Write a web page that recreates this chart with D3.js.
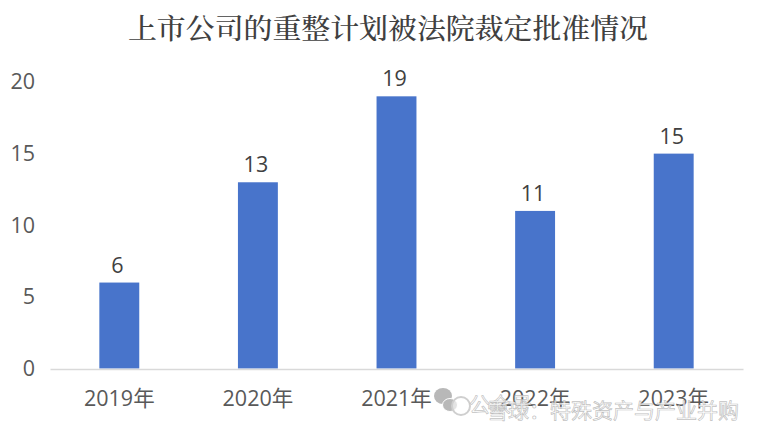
<!DOCTYPE html>
<html><head><meta charset="utf-8">
<script src="https://cdn.jsdelivr.net/npm/d3@7"></script>
<style>html,body{margin:0;padding:0;background:#fff}svg{display:block}</style>
</head><body><svg id="c" width="760" height="432"></svg>
<script>
const titleText = "上市公司的重整计划被法院裁定批准情况";
const categories = ["2019年","2020年","2021年","2022年","2023年"];
const values = [6,13,19,11,15];
const yTicks = [0,5,10,15,20];
const watermarkA = "公众号";
const watermarkB = "雪球：特殊资产与产业并购";

const sansFont = "'Open Sans','Noto Sans CJK SC',sans-serif";
const svg = d3.select("#c");
const x = d3.scaleBand().domain(categories).range([50,743]).paddingInner(0.712).paddingOuter(0.356);
const y = d3.scaleLinear().domain([0,20]).range([368.5,82]);

svg.append("text").attr("x",388).attr("y",39).attr("text-anchor","middle")
  .attr("font-family","'Noto Serif CJK SC','Noto Sans CJK SC',serif").attr("font-size",28.9).attr("font-weight",500)
  .attr("fill","#404040").text(titleText);

svg.selectAll("rect.bar").data(values).join("rect").attr("class","bar")
  .attr("x",(d,i)=>x(categories[i])).attr("width",x.bandwidth())
  .attr("y",d=>y(d)).attr("height",d=>y(0)-y(d)).attr("fill","#4874CB");

const xAxis = svg.append("g").attr("transform",`translate(0,${y(0)+0.5})`).call(d3.axisBottom(x).tickSize(0).tickPadding(22));
xAxis.select(".domain").attr("stroke","#D9D9D9").attr("stroke-width",1.5);
xAxis.selectAll("text").attr("font-family",sansFont).attr("font-size",21.5).attr("fill","#595959");

const yAxis = svg.append("g").attr("transform","translate(35,0)").call(d3.axisLeft(y).tickValues(yTicks).tickSize(0).tickPadding(0));
yAxis.select(".domain").remove();
yAxis.selectAll("text").attr("font-family",sansFont).attr("font-size",21.5).attr("fill","#595959");

svg.selectAll("text.lab").data(values).join("text").attr("class","lab")
  .attr("x",(d,i)=>x(categories[i])+x.bandwidth()/2-2).attr("y",d=>y(d)-10)
  .attr("text-anchor","middle").attr("font-family",sansFont).attr("font-size",21.5).attr("fill","#404040").text(d=>d);

// watermark
const wm = svg.append("g");
wm.append("ellipse").attr("cx",443).attr("cy",396).attr("rx",9).attr("ry",8).attr("fill","#b8b8b8");
wm.append("ellipse").attr("cx",450).attr("cy",405).attr("rx",7.5).attr("ry",6.5).attr("fill","#b8b8b8").attr("stroke","#fff").attr("stroke-width",1);
wm.append("circle").attr("cx",461).attr("cy",406).attr("r",9).attr("fill","#fff").attr("fill-opacity",0.6).attr("stroke","#cfcfcf").attr("stroke-width",2);
for (const [t,tx,ty] of [[watermarkA,469,412],[watermarkB,487,418]]) {
  wm.append("text").attr("x",tx).attr("y",ty).attr("font-family","'Noto Sans CJK SC',sans-serif").attr("font-size",21)
    .attr("fill","#ffffff").attr("fill-opacity",0.75).attr("stroke","#b5b5b5").attr("stroke-width",0.7).attr("stroke-opacity",0.85).text(t);
}
</script></body></html>
